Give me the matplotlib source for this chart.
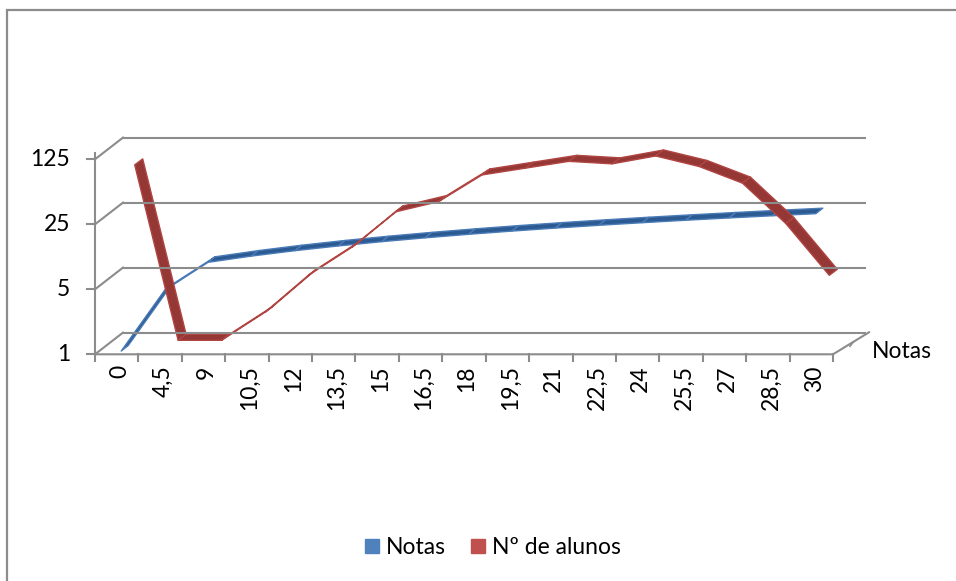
import numpy as np
import matplotlib.pyplot as plt
from matplotlib.patches import Polygon
from matplotlib.lines import Line2D

categorias = ['0', '4,5', '9', '10,5', '12', '13,5', '15', '16,5', '18',
              '19,5', '21', '22,5', '24', '25,5', '27', '28,5', '30']
notas = [1, 4.5, 9, 10.5, 12, 13.5, 15, 16.5, 18, 19.5, 21, 22.5, 24, 25.5, 27, 28.5, 30]
alunos = [77, 1, 1, 2, 5, 10, 24, 31, 60, 71, 84, 79, 96, 74, 49, 18, 5]
y_ticks = [1, 5, 25, 125]

plt.rcParams['font.family'] = ['Lato', 'DejaVu Sans']
fs = 16.5

W, H = 956, 581
fig = plt.figure(figsize=(W / 100, H / 100), dpi=100)
x0, x1, yb, yt = 95, 833, 354.3, 159.3
ax = fig.add_axes([x0 / W, 1 - yb / H, (x1 - x0) / W, (yb - yt) / H])
ax.set_yscale('log', base=5)
ax.set_ylim(1, 125)
ax.set_xlim(-0.5, len(categorias) - 0.5)
ax.axis('off')

inv = fig.transFigure.inverted()
grid_c = '#8c8c8c'


def line_px(xs, ys, **kw):
    pts = inv.transform(np.column_stack([xs, ys]))
    fig.add_artist(Line2D(pts[:, 0], pts[:, 1], transform=fig.transFigure, **kw))


# outer frame (top + left visible)
line_px([7, 7, W], [0, H - 10, H - 10], color=grid_c, lw=1.6, solid_joinstyle='miter')

# back wall gridlines and left diagonals
dxl, dxr, dy = 28, 32, 21.7
for v in y_ticks:
    fx, fy = ax.transData.transform((-0.5, v))
    line_px([fx + dxl, x1 + dxr], [fy + dy, fy + dy], color=grid_c, lw=1.5)
    line_px([fx, fx + dxl], [fy, fy + dy], color=grid_c, lw=1.5)
    line_px([fx - 8, fx], [fy, fy], color=grid_c, lw=1.5)
    p = inv.transform((fx - 25, fy))
    fig.text(p[0], p[1], str(v), ha='right', va='center', fontsize=fs, color='#000000')

# value axis and category axis
_, ybot = ax.transData.transform((0, 1))
_, ytop = ax.transData.transform((0, 125))
line_px([x0, x0], [ybot, ytop + 6], color=grid_c, lw=1.5)
line_px([x0, x1, x1 + 36], [ybot, ybot, ybot + 22], color=grid_c, lw=1.5)
line_px([x1 + 20, x1 + 17], [ybot + 12, ybot + 8], color=grid_c, lw=1.2)
for i in range(len(categorias) + 1):
    tx, _ = ax.transData.transform((i - 0.5, 1))
    line_px([tx, tx], [ybot, ybot - 7], color=grid_c, lw=1.5)
for i, lab in enumerate(categorias):
    tx, _ = ax.transData.transform((i, 1))
    p = inv.transform((tx + 3, ybot - 11))
    fig.text(p[0], p[1], lab, rotation=90, ha='center', va='top', fontsize=fs)
p = inv.transform((x1 + 39, ybot + 3))
fig.text(p[0], p[1], 'Notas', ha='left', va='center', fontsize=fs)


def ribbon(vals, center, depth, face, edge):
    pts = ax.transData.transform(np.column_stack([np.arange(len(vals)), vals]))
    pts = pts + np.array(center)
    d = np.array(depth) / 2
    for a, b in zip(pts[:-1], pts[1:]):
        quad = inv.transform(np.array([a - d, b - d, b + d, a + d]))
        fig.add_artist(Polygon(quad, closed=True, transform=fig.transFigure,
                               facecolor=face, edgecolor=edge, lw=1.0,
                               joinstyle='round'))


ribbon(notas, (8, 6), (7, 5.5), '#2c5a92', '#4a7bb7')
ribbon(alunos, (22, 17), (8, 6), '#953735', '#b04542')

handles = [Line2D([], [], marker='s', ls='none', markersize=10.5, color='#4f81bd'),
           Line2D([], [], marker='s', ls='none', markersize=10.5, color='#c0504d')]
fig.legend(handles, ['Notas', 'Nº de alunos'], loc='center', ncol=2, frameon=False,
           bbox_to_anchor=(492 / W, 1 - 548 / H), fontsize=fs, handletextpad=0.2,
           columnspacing=1.0, handlelength=0.8)

fig.savefig('out.png', dpi=100, facecolor='white')
